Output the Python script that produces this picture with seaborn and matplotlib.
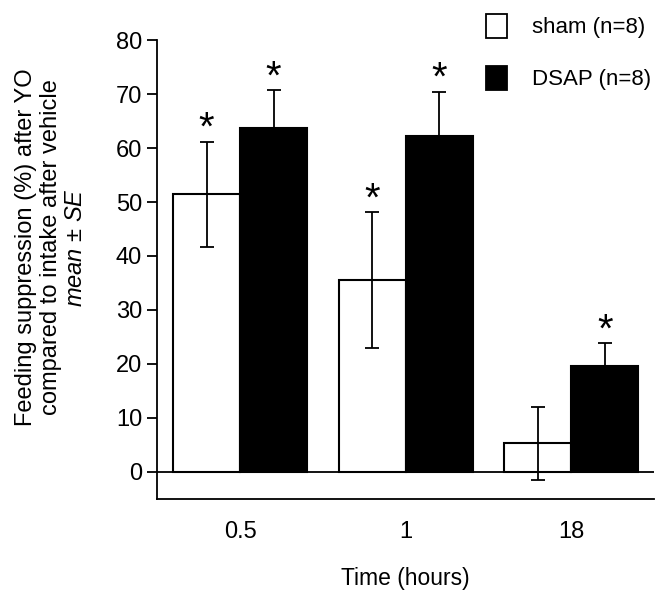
import pandas as pd
import numpy as np
import matplotlib
matplotlib.use("Agg")
import matplotlib.pyplot as plt
import seaborn as sns
from matplotlib.patches import Patch

sns.set_theme(style="ticks")
plt.rcParams['font.family'] = ['Liberation Sans', 'DejaVu Sans']
plt.rcParams['mathtext.fontset'] = 'custom'
plt.rcParams['mathtext.it'] = 'Liberation Sans:italic'
plt.rcParams['mathtext.rm'] = 'Liberation Sans'
plt.rcParams['text.color'] = 'black'
plt.rcParams['axes.edgecolor'] = 'black'
plt.rcParams['axes.labelcolor'] = 'black'
plt.rcParams['xtick.color'] = 'black'
plt.rcParams['ytick.color'] = 'black'

# data
times = ["0.5", "1", "18"]
groups = ["sham (n=8)", "DSAP (n=8)"]
sham_mean = [51.4, 35.5, 5.3]
sham_se = [9.7, 12.6, 6.7]
dsap_mean = [63.7, 62.2, 19.6]
dsap_se = [7.0, 8.2, 4.2]
sham_star = [True, True, False]
dsap_star = [True, True, True]

df = pd.DataFrame({
    "time": times * 2,
    "group": [groups[0]] * 3 + [groups[1]] * 3,
    "value": sham_mean + dsap_mean,
})

fig, ax = plt.subplots(figsize=(6.59, 5.91), dpi=100)
fig.subplots_adjust(left=0.2387, right=0.9924, top=0.9323, bottom=0.1557)

sns.barplot(data=df, x="time", y="value", hue="group", order=times,
            hue_order=groups, palette=["white", "black"], edgecolor="black",
            linewidth=1.5, width=0.81, gap=0, errorbar=None, legend=False, ax=ax)

# error bars and asterisks
for cont, se, stars in zip(ax.containers, [sham_se, dsap_se], [sham_star, dsap_star]):
    for bar, err, st in zip(cont, se, stars):
        cx = bar.get_x() + bar.get_width() / 2
        h = bar.get_height()
        ax.errorbar(cx, h, yerr=err, fmt="none", ecolor="black",
                    elinewidth=1.3, capsize=5, capthick=1.3, zorder=3)
        if st:
            ax.text(cx, h + err - 1.1, "*", ha="center", va="bottom",
                    fontsize=29, color="black")

ax.axhline(0, color="black", linewidth=1.3, zorder=4)
ax.set_xlim(-0.5, 2.5)
ax.set_ylim(-5, 80)
ax.set_yticks(range(0, 81, 10))
ax.spines["top"].set_visible(False)
ax.spines["right"].set_visible(False)
ax.spines["left"].set_linewidth(1.3)
ax.spines["bottom"].set_linewidth(1.3)
ax.spines["left"].set_bounds(-5, 80)
ax.tick_params(axis="y", length=7, width=1.3, pad=4, labelsize=17)
ax.tick_params(axis="x", length=0, pad=16, labelsize=17)
ax.set_xlabel("Time (hours)", fontsize=16.5, labelpad=17)
ax.set_ylabel("")

fig.text(51 / 659, 1 - 247.5 / 591,
         "Feeding suppression (%) after YO\ncompared to intake after vehicle\n"
         r"$mean$ ± $SE$",
         rotation=90, ha="center", va="center", multialignment="center",
         fontsize=17, linespacing=1.2)

handles = [Patch(facecolor="white", edgecolor="black", linewidth=1.3),
           Patch(facecolor="black", edgecolor="black", linewidth=1.3)]
fig.legend(handles, groups, loc="upper left", bbox_to_anchor=(466 / 659, 1.01),
           frameon=False, fontsize=16, handlelength=0.95, handleheight=1.25,
           labelspacing=1.25, handletextpad=1.1)

fig.savefig("out.png", dpi=100)
